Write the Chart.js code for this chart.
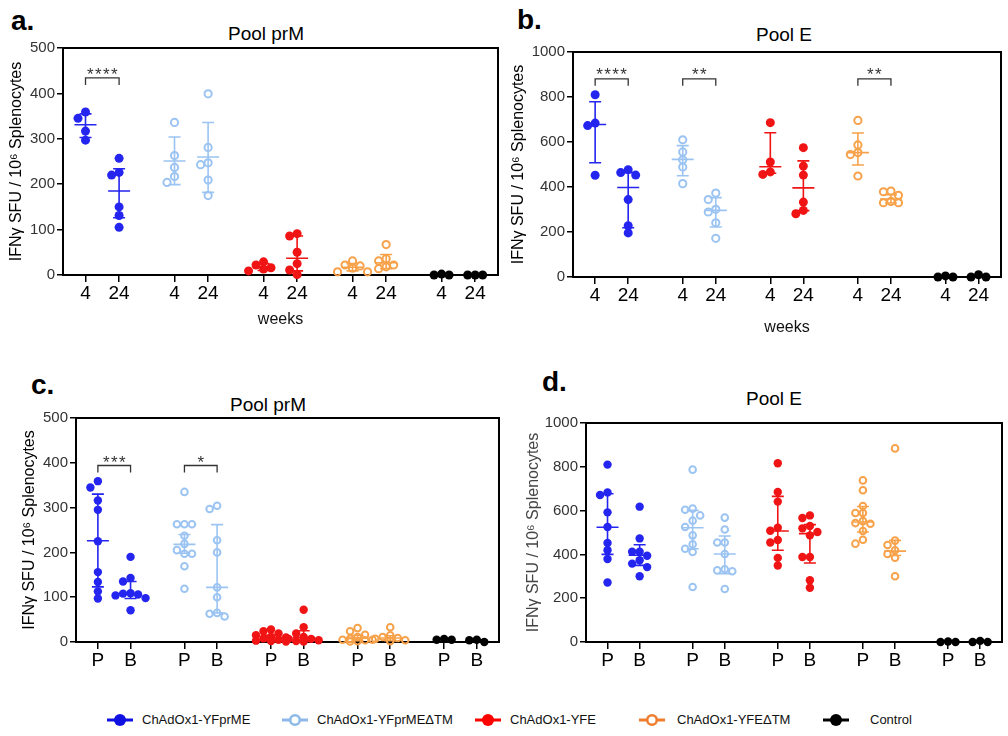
<!DOCTYPE html>
<html>
<head>
<meta charset="utf-8">
<script src="https://cdn.jsdelivr.net/npm/chart.js@4.4.0/dist/chart.umd.min.js"></script>
<style>
body{margin:0;background:#fff;width:1008px;height:736px;position:relative;overflow:hidden;font-family:'Liberation Sans',Arial,sans-serif}
canvas{position:absolute}
.lbl{position:absolute;font-weight:bold;font-size:28px;line-height:28px;color:#000}
.ttl{position:absolute;font-size:19px;line-height:19px;transform:translateX(-50%);white-space:nowrap;color:#000}
.leg{position:absolute;top:712px;font-size:13px;line-height:16px;white-space:nowrap;color:#111}
.mk{position:absolute;top:713px}
</style>
</head>
<body>
<div class="lbl" style="left:11px;top:7px">a.</div>
<div class="lbl" style="left:517px;top:6px">b.</div>
<div class="lbl" style="left:31px;top:371px">c.</div>
<div class="lbl" style="left:542px;top:368px">d.</div>
<div class="ttl" style="left:266px;top:24px">Pool prM</div>
<div class="ttl" style="left:784px;top:25px">Pool E</div>
<div class="ttl" style="left:268px;top:395px">Pool prM</div>
<div class="ttl" style="left:774px;top:389px">Pool E</div>

<canvas id="pa" width="508" height="300" style="left:0;top:37px"></canvas>
<canvas id="pb" width="508" height="300" style="left:500px;top:37px"></canvas>
<canvas id="pc" width="508" height="270" style="left:0;top:405px"></canvas>
<canvas id="pd" width="508" height="270" style="left:500px;top:405px"></canvas>

<div id="legend"></div>

<script>
// group positions on the x axis (two time points per vaccine)
const groupPos = [0, 1, 2.65, 3.65, 5.3, 6.3, 7.95, 8.95, 10.6, 11.6];
const weekLabels = ['4', '24', '4', '24', '4', '24', '4', '24', '4', '24'];
const prepLabels = ['P', 'B', 'P', 'B', 'P', 'B', 'P', 'B', 'P', 'B'];
const seriesNames = ['ChAdOx1-YFprME', 'ChAdOx1-YFprMEΔTM', 'ChAdOx1-YFE', 'ChAdOx1-YFEΔTM', 'Control'];
const yTitle = 'IFNγ SFU / 10⁶ Splenocytes';

// panel a - Pool prM, weeks
const aYFprME = [[359, 345, 317, 297], [257, 226, 220, 150, 131, 105]];
const aYFprMEdTM = [[336, 263, 237, 217, 204], [399, 281, 247, 243, 209, 175]];
const aYFE = [[29, 22, 16, 13, 9], [91, 86, 50, 25, 11, 1]];
const aYFEdTM = [[31, 22, 20, 15, 7, 7], [67, 36, 31, 22, 18, 14]];
const aControl = [[0, 2, 0], [0, 0, 0]];
const aCenter = [331, 185, 251, 260, 18, 37, 17, 27, 1, 0];
const aLow = [303, 126, 199, 182, 10, 9, 9, 14, 0, 0];
const aHigh = [355, 234, 304, 336, 25, 86, 25, 45, 2, 0];
const aBracketPairs = [[0, 1]];
const aBracketStars = ['****'];
const aBracketLevel = 434;
const aStarLevel = 452;

// panel b - Pool E, weeks
const bYFprME = [[810, 684, 673, 452], [477, 464, 453, 344, 228, 196]];
const bYFprMEdTM = [[610, 556, 521, 489, 415], [373, 344, 301, 289, 241, 172]];
const bYFE = [[686, 511, 467, 456], [575, 493, 453, 333, 296, 281]];
const bYFEdTM = [[696, 587, 553, 544, 449], [382, 379, 363, 336, 330, 330]];
const bControl = [[0, 5, 0], [0, 10, 0]];
const bCenter = [678, 398, 523, 296, 490, 396, 553, 347, 2, 3];
const bLow = [508, 219, 450, 222, 461, 295, 498, 329, 0, 0];
const bHigh = [779, 464, 584, 353, 641, 516, 640, 366, 4, 8];
const bBracketPairs = [[0, 1], [2, 3], [6, 7]];
const bBracketStars = ['****', '**', '**'];
const bBracketLevel = 881;
const bStarLevel = 918;

// panel c - Pool prM, P / B
const cYFprME = [[359, 345, 316, 295, 225, 156, 134, 113, 97], [190, 143, 135, 109, 108, 106, 104, 98, 71]];
const cYFprMEdTM = [[335, 263, 263, 263, 237, 219, 205, 197, 197, 169, 119], [304, 297, 227, 200, 122, 100, 65, 63, 57]];
const cYFE = [[28, 24, 19, 15, 12, 10, 8, 5, 3, 2, 1], [72, 33, 19, 11, 7, 7, 4, 2, 1]];
const cYFEdTM = [[31, 24, 16, 11, 7, 5, 5, 4, 2, 1], [33, 15, 11, 9, 7, 4, 2]];
const cControl = [[5, 7, 5], [0, 5, 4]];
const cCenter = [226, 106, 218, 122, 9, 10, 9, 9, 6, 3];
const cLow = [123, 97, 198, 65, 3, 3, 3, 3, 5, 1];
const cHigh = [330, 135, 240, 262, 15, 25, 15, 14, 7, 5];
const cBracketPairs = [[0, 1], [2, 3]];
const cBracketStars = ['***', '*'];
const cBracketLevel = 394;
const cStarLevel = 411;

// panel d - Pool E, P / B
const dYFprME = [[810, 683, 671, 592, 525, 452, 419, 379, 272], [618, 473, 412, 412, 394, 373, 358, 342, 300]];
const dYFprMEdTM = [[787, 609, 604, 578, 554, 525, 487, 446, 426, 411, 251], [568, 514, 454, 454, 402, 332, 327, 323, 242]];
const dYFE = [[816, 685, 641, 522, 508, 466, 454, 384, 349], [578, 566, 530, 519, 502, 487, 388, 388, 282, 248]];
const dYFEdTM = [[738, 693, 621, 589, 589, 552, 543, 540, 507, 467, 449], [884, 463, 443, 419, 402, 385, 300]];
const dControl = [[0, 2, 0], [0, 5, 0]];
const dCenter = [524, 396, 522, 402, 507, 495, 548, 415, 1, 2];
const dLow = [400, 350, 426, 312, 419, 361, 502, 395, 0, 0];
const dHigh = [677, 444, 601, 484, 665, 536, 619, 464, 2, 4];

const dotColors = ['#2525f0', '#9cc4f2', '#f01414', '#f7a24a', '#000000'];
const legendColors = ['#1010e0', '#8db8e8', '#ff0000', '#ee7d2e', '#000000'];
const openSeries = [false, true, false, true, false];
const FONT = "'Liberation Sans', Arial, sans-serif";

// error bars, significance brackets and the box round the plot
const markPlugin = {
  id: 'marks',
  beforeDatasetsDraw(chart) {
    const a = chart.chartArea, ctx = chart.ctx;
    ctx.save();
    ctx.strokeStyle = '#000';
    ctx.lineWidth = 2;
    ctx.strokeRect(a.left, a.top, a.right - a.left, a.bottom - a.top);
    ctx.restore();
  },
  afterDatasetsDraw(chart, args, o) {
    const ctx = chart.ctx, x = chart.scales.x, y = chart.scales.y;
    ctx.save();
    ctx.lineWidth = 1.6;
    o.center.forEach((c, i) => {
      const px = x.getPixelForValue(groupPos[i]);
      const yc = y.getPixelForValue(c), yl = y.getPixelForValue(o.low[i]), yh = y.getPixelForValue(o.high[i]);
      ctx.strokeStyle = dotColors[Math.floor(i / 2)];
      ctx.beginPath();
      ctx.moveTo(px - 11, yc); ctx.lineTo(px + 11, yc);
      ctx.moveTo(px, yl); ctx.lineTo(px, yh);
      ctx.moveTo(px - 6, yl); ctx.lineTo(px + 6, yl);
      ctx.moveTo(px - 6, yh); ctx.lineTo(px + 6, yh);
      ctx.stroke();
    });
    if (o.pairs) {
      ctx.strokeStyle = '#333';
      ctx.fillStyle = '#333';
      ctx.lineWidth = 1.3;
      ctx.font = '17px ' + FONT;
      ctx.textAlign = 'center';
      ctx.textBaseline = 'alphabetic';
      o.pairs.forEach((pr, k) => {
        const x1 = x.getPixelForValue(groupPos[pr[0]]), x2 = x.getPixelForValue(groupPos[pr[1]]);
        const yb = y.getPixelForValue(o.level);
        ctx.beginPath();
        ctx.moveTo(x1, yb + 7); ctx.lineTo(x1, yb); ctx.lineTo(x2, yb); ctx.lineTo(x2, yb + 7);
        ctx.stroke();
        const n = o.stars[k].length, mid = (x1 + x2) / 2, ys = y.getPixelForValue(o.starLevel) + 10;
        for (let s = 0; s < n; s++) ctx.fillText('*', mid + (s - (n - 1) / 2) * 8, ys);
      });
    }
    ctx.restore();
  }
};

// spread overlapping points sideways (scatter dot plot), at most two steps out
function swarm(chart) {
  const xs = chart.scales.x, ys = chart.scales.y;
  const unit = xs.getPixelForValue(1) - xs.getPixelForValue(0);
  const step = 7.5, diam = 7;
  const cands = [0, -1, 1, -2, 2].map(k => k * step);
  chart.data.datasets.forEach(ds => {
    const groups = {};
    ds.data.forEach(p => (groups[p.g] = groups[p.g] || []).push(p));
    Object.values(groups).forEach(pts => {
      const placed = [];
      pts.slice().sort((a, b) => b.y - a.y).forEach(p => {
        const py = ys.getPixelForValue(p.y);
        let best = 0, bestD = -1;
        for (const off of cands) {
          const d = placed.reduce((m, q) => Math.min(m, Math.hypot(q.dx - off, q.py - py)), Infinity);
          if (d >= diam) { best = off; bestD = d; break; }
          if (d > bestD) { best = off; bestD = d; }
        }
        placed.push({dx: best, py: py});
        p.x = groupPos[p.g] + best / unit;
      });
    });
  });
  chart.update('none');
}

function makePanel(id, p) {
  const datasets = p.series.map((groups, s) => ({
    label: seriesNames[s],
    data: groups.flatMap((vals, t) => vals.map(v => ({x: groupPos[s * 2 + t], y: v, g: s * 2 + t}))),
    pointRadius: openSeries[s] ? p.r - 0.9 : p.r,
    pointBorderWidth: openSeries[s] ? 2 : 0,
    backgroundColor: openSeries[s] ? 'rgba(0,0,0,0)' : dotColors[s],
    borderColor: dotColors[s],
    showLine: false,
    clip: false
  }));
  const chart = new Chart(document.getElementById(id), {
    type: 'scatter',
    data: {datasets: datasets},
    plugins: [markPlugin],
    options: {
      responsive: false,
      animation: false,
      events: [],
      layout: {padding: p.pad},
      plugins: {
        legend: {display: false},
        tooltip: {enabled: false},
        marks: {center: p.center, low: p.low, high: p.high, pairs: p.pairs, stars: p.stars, level: p.level, starLevel: p.starLevel}
      },
      scales: {
        x: {
          type: 'linear', min: -0.67, max: 12.28,
          afterBuildTicks: sc => { sc.ticks = groupPos.map(v => ({value: v})); },
          afterFit: sc => { sc.height = p.xh; },
          ticks: {autoSkip: false, maxRotation: 0, padding: 0, color: '#000', font: {size: 19, family: FONT},
                  callback: (v, i) => p.xLabels[i]},
          grid: {drawOnChartArea: false, tickLength: 7, color: '#000', lineWidth: 1.5},
          border: {color: '#000', width: 2},
          title: p.xTitle ? {display: true, text: p.xTitle, color: '#111', font: {size: 16, family: FONT},
                             padding: {top: 0, bottom: p.xtPad}} : {display: false}
        },
        y: {
          min: 0, max: p.yMax,
          afterFit: sc => { sc.width = p.yw; },
          ticks: {stepSize: p.yStep, padding: 2, color: '#333', font: {size: 15, family: FONT},
                  callback: v => String(v)},
          grid: {drawOnChartArea: false, tickLength: 6, color: '#000', lineWidth: 1.5},
          border: {color: '#000', width: 2},
          title: {display: true, text: yTitle, color: p.ytColor, font: {size: 16, family: FONT}, padding: {top: 4, bottom: 4}}
        }
      }
    }
  });
  swarm(chart);
  return chart;
}

makePanel('pa', {
  series: [aYFprME, aYFprMEdTM, aYFE, aYFEdTM, aControl],
  center: aCenter, low: aLow, high: aHigh,
  pairs: aBracketPairs, stars: aBracketStars, level: aBracketLevel, starLevel: aStarLevel,
  yMax: 500, yStep: 100, xLabels: weekLabels, xTitle: 'weeks', xtPad: 8,
  pad: {left: 3, top: 10, right: 10, bottom: 0}, yw: 60, xh: 62, r: 4.5, ytColor: '#000'
});
makePanel('pb', {
  series: [bYFprME, bYFprMEdTM, bYFE, bYFEdTM, bControl],
  center: bCenter, low: bLow, high: bHigh,
  pairs: bBracketPairs, stars: bBracketStars, level: bBracketLevel, starLevel: bStarLevel,
  yMax: 1000, yStep: 200, xLabels: weekLabels, xTitle: 'weeks', xtPad: 0,
  pad: {left: 5, top: 15, right: 7, bottom: 0}, yw: 68, xh: 60, r: 4.5, ytColor: '#000'
});
makePanel('pc', {
  series: [cYFprME, cYFprMEdTM, cYFE, cYFEdTM, cControl],
  center: cCenter, low: cLow, high: cHigh,
  pairs: cBracketPairs, stars: cBracketStars, level: cBracketLevel, starLevel: cStarLevel,
  yMax: 500, yStep: 100, xLabels: prepLabels, xTitle: null,
  pad: {left: 16, top: 13, right: 9, bottom: 0}, yw: 60, xh: 33, r: 4.2, ytColor: '#000'
});
makePanel('pd', {
  series: [dYFprME, dYFprMEdTM, dYFE, dYFEdTM, dControl],
  center: dCenter, low: dLow, high: dHigh,
  pairs: null, stars: null, level: 0, starLevel: 0,
  yMax: 1000, yStep: 200, xLabels: prepLabels, xTitle: null,
  pad: {left: 20, top: 18, right: 5, bottom: 0}, yw: 66, xh: 33, r: 4.2, ytColor: '#444'
});

// legend
const legendMarkerX = [107, 282, 475, 639, 823];
const legendTextX = [142, 317, 510, 677, 870];
let html = '';
seriesNames.forEach((name, s) => {
  const c = legendColors[s];
  const circ = openSeries[s]
    ? '<circle cx="13" cy="7" r="4.8" fill="#fff" stroke="' + c + '" stroke-width="2.6"/>'
    : '<circle cx="13" cy="7" r="6" fill="' + c + '"/>';
  html += '<svg class="mk" style="left:' + legendMarkerX[s] + 'px" width="26" height="14">' +
          '<line x1="0" y1="7" x2="26" y2="7" stroke="' + c + '" stroke-width="3"/>' + circ + '</svg>';
  html += '<div class="leg" style="left:' + legendTextX[s] + 'px">' + name + '</div>';
});
document.getElementById('legend').innerHTML = html;
</script>
</body>
</html>
